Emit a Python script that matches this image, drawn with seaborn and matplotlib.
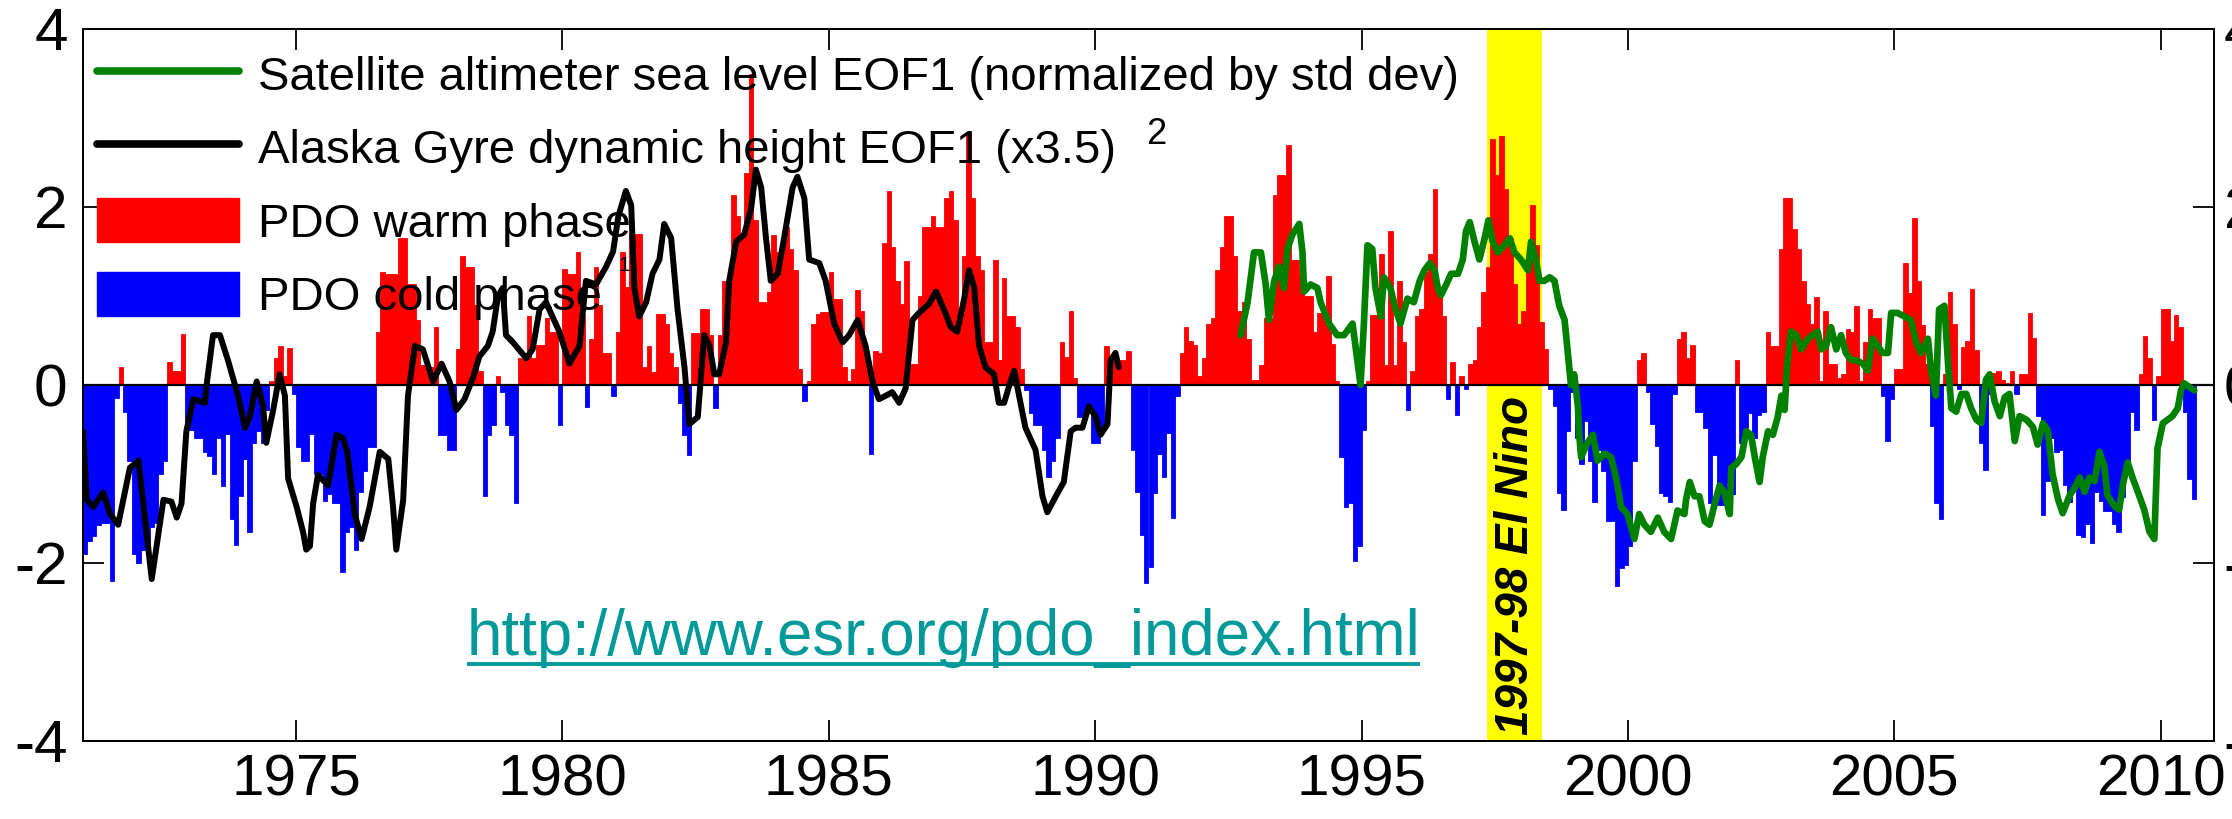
import numpy as np
import pandas as pd
import matplotlib
matplotlib.use("Agg")
import matplotlib.pyplot as plt
from matplotlib.lines import Line2D
from matplotlib.patches import Patch
import seaborn as sns

# ---------------- data ----------------
pdo_start_year = 1971
pdo_1971_1980 = [
    -1.90, -1.75, -1.70, -1.57, -1.55, -1.55, -2.20, -0.15, 0.20, -0.30, -0.85, -1.90,
    -2.00, -1.85, -1.80, -1.60, -1.55, -1.00, -0.85, 0.26, 0.16, 0.16, 0.57, -0.50,
    -0.50, -0.60, -0.60, -0.75, -0.80, -1.00, -0.60, -1.13, -0.55, -1.50, -1.80, -1.25,
    -0.83, -1.65, -0.65, -0.52, -0.65, -0.28, 0.05, 0.30, 0.44, 0.10, 0.42, -0.10,
    -0.70, -0.85, -0.85, -0.55, -1.00, -1.00, -1.30, -1.22, -1.33, -1.33, -2.10, -1.65,
    -1.60, -1.85, -1.20, -0.97, -0.70, -0.70, 0.60, 1.27, 1.25, 1.25, 1.25, 1.65,
    1.65, 1.13, 1.13, 0.73, 0.22, 0.20, 0.20, 0.65, -0.56, -0.56, -0.73, -0.73,
    0.40, 1.45, 1.33, 1.33, 0.90, 0.16, -1.25, -0.56, -0.45, 0.10, -0.08, -0.45,
    -0.56, -1.33, 0.30, 0.30, 0.77, 0.30, 0.45, 0.45, 0.75, 0.60, 0.60, -0.45,
    1.30, 1.25, 1.25, 1.50, 0.77, -0.25, 0.52, 1.33, 0.90, 0.36, 0.36, -0.12,
]
pdo_1981_1990 = [
    0.60, 1.50, 1.10, 1.70, 1.70, 1.70, 0.20, 0.44, 0.15, 0.80, 0.80, 0.69,
    0.36, 0.20, -0.20, -0.56, -0.79, 0.58, 0.58, 0.85, 0.85, 0.56, -0.26, 0.56,
    1.17, 1.17, 2.14, 1.90, 1.69, 2.38, 3.49, 1.85, 0.93, 0.93, 1.05, 1.69,
    1.50, 1.50, 1.77, 1.53, 1.29, 0.18, -0.18, 0.04, 0.69, 0.80, 0.82, 0.82,
    1.27, 0.97, 0.97, 0.20, 0.04, 0.18, 1.07, 0.83, 0.36, -0.77, 0.38, 0.36,
    1.60, 2.18, 1.55, 1.17, 0.91, 1.39, 0.24, 0.24, 1.00, 1.77, 1.77, 1.90,
    1.77, 1.77, 2.10, 2.18, 1.85, 0.80, 1.45, 2.84, 2.10, 1.45, 1.29, 0.48,
    0.48, 1.41, 0.28, 1.20, 0.77, 0.77, 0.65, 0.18, -0.06, -0.32, -0.45, -0.45,
    -0.73, -1.03, -0.85, -0.60, 0.48, 0.32, 0.83, 0.08, -0.36, -0.36, -0.28, -0.65,
    -0.65, -0.52, 0.44, 0.32, 0.32, 0.28, 0.28, 0.38, -0.73, -1.20, -1.69, -2.22,
]
pdo_1991_2000 = [
    -2.04, -1.21, -0.77, -1.03, -0.54, -1.49, -0.12, 0.36, 0.65, 0.50, 0.45, 0.10,
    0.30, 0.69, 0.75, 1.29, 1.55, 1.90, 1.90, 1.45, 0.83, 0.93, 0.52, 0.06,
    0.06, 0.22, 0.75, 0.75, 2.14, 2.36, 2.36, 2.70, 1.41, 1.41, 1.23, 1.00,
    1.00, 0.60, 0.81, 0.81, 1.23, 0.46, 0.04, -0.81, -1.37, -1.33, -1.98, -1.81,
    -0.50, 0.04, 0.79, 0.79, 1.47, 0.22, 1.73, 0.22, 1.17, 0.48, -0.28, 0.16,
    0.77, 0.85, 1.27, 1.47, 2.20, 1.00, 0.77, -0.16, 0.26, -0.34, 0.10, -0.05,
    0.24, 0.28, 0.65, 1.05, 1.33, 2.76, 2.36, 2.80, 2.20, 1.65, 1.13, 0.69,
    0.83, 1.29, 2.02, 1.57, 0.71, 0.40, -0.05, -0.24, -1.21, -1.41, -0.52, -0.08,
    -0.60, -0.89, -0.40, -0.85, -1.31, -0.73, -0.97, -1.53, -1.53, -2.26, -2.06, -2.02,
    -1.81, -0.85, 0.28, 0.36, -0.08, -0.44, -0.69, -1.21, -1.25, -1.31, -0.10, 0.52,
]
pdo_2001_2010 = [
    0.60, 0.30, 0.45, -0.30, -0.30, -0.48, -1.33, -0.79, -1.35, -1.35, -1.23, -1.23,
    0.28, -0.65, -0.48, -0.32, -0.60, -0.34, -0.30, 0.60, 0.44, 0.44, 1.53, 2.10,
    2.10, 1.75, 1.53, 1.17, 0.91, 0.69, 0.99, 0.04, 0.83, 0.24, 0.24, 0.08,
    0.12, 0.63, 0.60, 0.89, 0.05, 0.48, 0.85, 0.75, 0.75, -0.12, -0.63, -0.16,
    0.18, 0.18, 1.37, 1.03, 1.88, 1.17, 0.67, 0.24, -0.46, -1.33, -1.51, 0.12,
    1.04, 0.69, -0.05, 0.43, 0.49, 1.08, 0.39, -0.65, -0.96, -0.10, 0.14, 0.16,
    0.06, 0.02, 0.16, -0.10, 0.12, 0.12, 0.81, 0.53, -0.35, -1.46, -1.08, -0.59,
    -0.75, -0.73, -1.12, -1.32, -1.16, -1.69, -1.71, -1.56, -1.77, -1.20, -1.30, -1.42,
    -1.42, -1.56, -1.65, -1.26, -0.91, -0.30, -0.51, 0.12, 0.55, 0.30, -0.39, 0.10,
    0.85, 0.85, 0.49, 0.79, 0.65, -0.30, -1.06, -1.28,
]

alaska_year = [
    1971.00, 1971.07, 1971.19, 1971.38, 1971.51, 1971.66, 1971.88, 1972.04, 1972.19, 1972.29,
    1972.51, 1972.66, 1972.76, 1972.85, 1972.94, 1973.07, 1973.29, 1973.32, 1973.44, 1973.57,
    1973.72, 1973.91, 1974.04, 1974.13, 1974.26, 1974.38, 1974.44, 1974.57, 1974.69, 1974.79,
    1974.85, 1975.01, 1975.13, 1975.19, 1975.26, 1975.32, 1975.41, 1975.60, 1975.76, 1975.88,
    1975.96, 1976.03, 1976.10, 1976.23, 1976.38, 1976.57, 1976.73, 1976.82, 1976.88, 1977.01,
    1977.10, 1977.23, 1977.38, 1977.57, 1977.73, 1977.88, 1978.01, 1978.16, 1978.32, 1978.44,
    1978.60, 1978.69, 1978.79, 1978.88, 1978.94, 1979.07, 1979.32, 1979.44, 1979.57, 1979.69,
    1979.94, 1980.13, 1980.32, 1980.44, 1980.63, 1980.82, 1980.95, 1981.05, 1981.19, 1981.29,
    1981.35, 1981.44, 1981.57, 1981.69, 1981.82, 1981.91, 1982.04, 1982.16, 1982.29, 1982.38,
    1982.54, 1982.66, 1982.76, 1982.85, 1982.94, 1983.07, 1983.13, 1983.26, 1983.41, 1983.54,
    1983.63, 1983.73, 1983.82, 1983.91, 1984.04, 1984.16, 1984.32, 1984.41, 1984.54, 1984.63,
    1984.82, 1984.94, 1985.10, 1985.26, 1985.38, 1985.54, 1985.69, 1985.82, 1985.94, 1986.07,
    1986.19, 1986.32, 1986.44, 1986.57, 1986.69, 1986.88, 1987.01, 1987.16, 1987.29, 1987.41,
    1987.54, 1987.63, 1987.73, 1987.82, 1987.94, 1988.10, 1988.19, 1988.29, 1988.41, 1988.48,
    1988.57, 1988.69, 1988.88, 1989.01, 1989.10, 1989.26, 1989.41, 1989.54, 1989.63, 1989.76,
    1989.88, 1990.01, 1990.10, 1990.23, 1990.29, 1990.38, 1990.44,
]
alaska_value = [
    -0.52, -1.29, -1.37, -1.21, -1.45, -1.57, -0.93, -0.85, -1.65, -2.18,
    -1.29, -1.31, -1.49, -1.33, -0.52, -0.16, -0.20, 0.00, 0.56, 0.56,
    0.28, -0.12, -0.48, -0.36, 0.04, -0.24, -0.65, -0.28, 0.12, -0.12,
    -1.05, -1.37, -1.65, -1.85, -1.81, -1.33, -1.01, -1.13, -0.56, -0.60,
    -0.75, -1.10, -1.45, -1.73, -1.37, -0.75, -0.83, -1.37, -1.85, -1.29,
    -0.12, 0.44, 0.40, 0.04, 0.24, 0.04, -0.28, -0.16, 0.08, 0.32,
    0.44, 0.60, 1.00, 1.09, 0.56, 0.48, 0.30, 0.40, 0.85, 0.93,
    0.60, 0.24, 0.44, 1.17, 1.13, 1.33, 1.50, 1.90, 2.18, 2.02,
    1.09, 0.77, 0.93, 1.25, 1.41, 1.81, 1.65, 0.85, 0.20, -0.44,
    -0.36, 0.56, 0.44, 0.12, 0.12, 0.48, 1.17, 1.61, 1.69, 1.98,
    2.42, 2.22, 1.65, 1.17, 1.25, 1.65, 2.22, 2.34, 2.10, 1.41,
    1.37, 1.17, 0.69, 0.48, 0.56, 0.73, 0.44, 0.04, -0.16, -0.12,
    -0.08, -0.20, -0.04, 0.73, 0.81, 0.91, 1.05, 0.85, 0.65, 0.60,
    0.97, 1.29, 1.09, 0.44, 0.20, 0.12, -0.20, -0.20, 0.04, 0.16,
    -0.12, -0.48, -0.73, -1.25, -1.43, -1.25, -1.09, -0.52, -0.48, -0.48,
    -0.24, -0.36, -0.56, -0.44, 0.28, 0.36, 0.20,
]

sat_year = [
    1992.73, 1992.86, 1992.98, 1993.11, 1993.20, 1993.26, 1993.36, 1993.45, 1993.54, 1993.61,
    1993.70, 1993.83, 1993.89, 1993.92, 1994.04, 1994.17, 1994.23, 1994.39, 1994.54, 1994.67,
    1994.83, 1994.92, 1994.98, 1995.04, 1995.11, 1995.20, 1995.26, 1995.36, 1995.42, 1995.54,
    1995.64, 1995.73, 1995.86, 1995.98, 1996.09, 1996.18, 1996.28, 1996.37, 1996.43, 1996.49,
    1996.59, 1996.68, 1996.81, 1996.90, 1996.96, 1997.03, 1997.12, 1997.21, 1997.31, 1997.38,
    1997.46, 1997.56, 1997.68, 1997.78, 1997.87, 1997.99, 1998.12, 1998.18, 1998.27, 1998.34,
    1998.43, 1998.53, 1998.62, 1998.71, 1998.81, 1998.87, 1998.93, 1998.99, 1999.06, 1999.09,
    1999.12, 1999.24, 1999.34, 1999.43, 1999.56, 1999.68, 1999.78, 1999.87, 1999.99, 2000.12,
    2000.21, 2000.31, 2000.43, 2000.56, 2000.68, 2000.81, 2000.93, 2001.06, 2001.09, 2001.16,
    2001.25, 2001.34, 2001.44, 2001.53, 2001.63, 2001.72, 2001.81, 2001.91, 2001.94, 2002.03,
    2002.13, 2002.22, 2002.31, 2002.38, 2002.47, 2002.53, 2002.63, 2002.72, 2002.81, 2002.88,
    2002.94, 2002.99, 2003.06, 2003.16, 2003.25, 2003.38, 2003.47, 2003.56, 2003.63, 2003.72,
    2003.81, 2003.91, 2004.00, 2004.09, 2004.19, 2004.28, 2004.41, 2004.50, 2004.59, 2004.69,
    2004.78, 2004.88, 2004.94, 2005.06, 2005.19, 2005.31, 2005.41, 2005.50, 2005.63, 2005.69,
    2005.78, 2005.84, 2005.94, 2006.01, 2006.07, 2006.16, 2006.26, 2006.35, 2006.44, 2006.54,
    2006.63, 2006.72, 2006.79, 2006.88, 2006.98, 2007.07, 2007.16, 2007.26, 2007.35, 2007.48,
    2007.60, 2007.69, 2007.79, 2007.88, 2007.97, 2008.07, 2008.16, 2008.29, 2008.38, 2008.48,
    2008.57, 2008.66, 2008.76, 2008.85, 2008.94, 2009.00, 2009.13, 2009.22, 2009.29, 2009.38,
    2009.47, 2009.57, 2009.69, 2009.79, 2009.88, 2009.94, 2010.04, 2010.13, 2010.22, 2010.32,
    2010.38, 2010.44, 2010.53, 2010.63,
]
sat_value = [
    0.56, 0.93, 1.49, 1.49, 1.13, 0.73, 1.17, 1.33, 1.09, 1.53,
    1.69, 1.81, 1.49, 1.05, 1.13, 1.09, 0.93, 0.69, 0.56, 0.56,
    0.69, 0.28, 0.00, 0.65, 1.57, 1.53, 1.09, 0.77, 1.21, 1.09,
    0.85, 0.69, 0.97, 0.93, 1.17, 1.29, 1.37, 1.29, 1.09, 1.01,
    1.13, 1.25, 1.25, 1.41, 1.73, 1.83, 1.61, 1.41, 1.65, 1.85,
    1.61, 1.49, 1.57, 1.65, 1.49, 1.41, 1.29, 1.61, 1.41, 1.17,
    1.17, 1.21, 1.17, 0.89, 0.73, 0.36, 0.00, 0.12, -0.24, -0.60,
    -0.81, -0.65, -0.56, -0.85, -0.77, -0.81, -1.05, -1.37, -1.45, -1.73,
    -1.45, -1.57, -1.65, -1.49, -1.65, -1.73, -1.41, -1.45, -1.29, -1.09,
    -1.25, -1.25, -1.53, -1.57, -1.33, -1.13, -1.21, -1.45, -0.93, -0.89,
    -0.81, -0.52, -0.56, -0.81, -1.09, -0.81, -0.52, -0.56, -0.36, -0.12,
    -0.28, 0.24, 0.60, 0.56, 0.40, 0.52, 0.56, 0.60, 0.40, 0.44,
    0.65, 0.40, 0.56, 0.36, 0.28, 0.28, 0.24, 0.16, 0.52, 0.44,
    0.36, 0.36, 0.81, 0.81, 0.77, 0.73, 0.48, 0.36, 0.52, 0.16,
    -0.12, 0.85, 0.89, 0.22, -0.26, -0.30, -0.10, -0.10, -0.26, -0.39,
    -0.43, 0.06, 0.12, -0.18, -0.35, -0.14, -0.10, -0.63, -0.35, -0.39,
    -0.47, -0.67, -0.43, -0.51, -1.00, -1.28, -1.44, -1.24, -1.16, -1.04,
    -1.20, -1.04, -1.08, -0.75, -0.91, -1.24, -1.36, -1.40, -1.12, -0.87,
    -1.04, -1.20, -1.40, -1.65, -1.73, -0.71, -0.43, -0.39, -0.35, -0.26,
    -0.06, 0.02, -0.02, -0.06,
]

legend_labels = [
    "Satellite altimeter sea level EOF1 (normalized by std dev)",
    "Alaska Gyre dynamic height EOF1 (x3.5)",
    "PDO warm phase",
    "PDO cold phase",
]
x_ticks = [1975, 1980, 1985, 1990, 1995, 2000, 2005, 2010]
y_ticks = [-4, -2, 0, 2, 4]
el_nino_span = [1997.35, 1998.38]
url_text = "http://www.esr.org/pdo_index.html"
el_nino_text = "1997-98 El Nino"

# ---------------- styling ----------------
sns.set_theme(style="white")
plt.rcParams["font.family"] = ["Liberation Sans", "DejaVu Sans"]
plt.rcParams["axes.unicode_minus"] = False
plt.rcParams["axes.edgecolor"] = "black"
plt.rcParams["text.color"] = "black"
plt.rcParams["xtick.color"] = "black"
plt.rcParams["ytick.color"] = "black"

W, H = 2232, 819
fig = plt.figure(figsize=(W / 100, H / 100), dpi=100)
ax_l, ax_r, ax_t, ax_b = 83, 2214, 29, 741
ax = fig.add_axes([ax_l / W, 1 - ax_b / H, (ax_r - ax_l) / W, (ax_b - ax_t) / H])

pdo = np.array(pdo_1971_1980 + pdo_1981_1990 + pdo_1991_2000 + pdo_2001_2010)
months = pdo_start_year + (np.arange(len(pdo)) + 0.5) / 12.0
df = pd.DataFrame({"year": np.round(months, 5), "pdo": pdo})
warm = df[df["pdo"] > 0]
cold = df[df["pdo"] < 0]

ax.axvspan(el_nino_span[0], el_nino_span[1], color="#FFFF00", zorder=0.5, lw=0)

sns.barplot(data=warm, x="year", y="pdo", native_scale=True, color="#FF0000",
            saturation=1, errorbar=None, width=1.0, edgecolor="#FF0000",
            linewidth=0.6, ax=ax, zorder=1)
sns.barplot(data=cold, x="year", y="pdo", native_scale=True, color="#0000FF",
            saturation=1, errorbar=None, width=1.0, edgecolor="#0000FF",
            linewidth=0.6, ax=ax, zorder=1)

ax.axhline(0, color="black", lw=1.6, zorder=2)

sns.lineplot(x=alaska_year, y=alaska_value, color="black", linewidth=4.3,
             sort=False, estimator=None, ax=ax, zorder=3)
sns.lineplot(x=sat_year, y=sat_value, color="#008000", linewidth=4.8,
             sort=False, estimator=None, ax=ax, zorder=3)

ax.set_xlim(1971, 2011)
ax.set_ylim(-4, 4)
ax.set_xticks(x_ticks)
ax.set_xticklabels([str(t) for t in x_ticks])
ax.set_yticks(y_ticks)
ax.set_yticklabels([str(t) for t in y_ticks])
ax.set_xlabel("")
ax.set_ylabel("")
ax.xaxis.set_ticks_position("both")
ax.tick_params(axis="x", direction="in", length=15, width=1.3, labelsize=42, pad=9,
               top=True, bottom=True)
ax.tick_params(axis="y", direction="in", length=15, width=1.3, labelsize=43.5, pad=11,
               left=True, right=False)
for s in ax.spines.values():
    s.set_linewidth(1.4)
    s.set_color("black")
    s.set_visible(True)

ax2 = ax.twinx()
ax2.set_ylim(-4, 4)
ax2.set_yticks(y_ticks)
ax2.set_yticklabels([str(t) for t in y_ticks])
ax2.tick_params(axis="y", direction="in", length=15, width=1.3, labelsize=43.5, pad=7)
ax2.grid(False)
for s in ax2.spines.values():
    s.set_linewidth(1.4)
    s.set_color("black")

# legend
handles = [
    Line2D([], [], color="#008000", lw=5.5),
    Line2D([], [], color="black", lw=5.5),
    Patch(facecolor="#FF0000", edgecolor="#FF0000"),
    Patch(facecolor="#0000FF", edgecolor="#0000FF"),
]
leg = ax.legend(handles, legend_labels, loc="upper left",
                bbox_to_anchor=(14 / (ax_r - ax_l), 1 - 23 / (ax_b - ax_t)),
                frameon=False, fontsize=34, handlelength=3.0, handleheight=1.06,
                handletextpad=0.42, labelspacing=0.53, borderpad=0, borderaxespad=0)
leg.set_zorder(2.5)

# small annotation marks
ax.text(1991.15, 2.81, "2", fontsize=26, ha="center", va="center", zorder=4)
ax.text(1981.15, 1.34, "1", fontsize=15, ha="center", va="center", zorder=4)

# El Nino label
ax.text(1997.89, -3.93, el_nino_text, rotation=90, fontsize=33,
        fontweight="bold", fontstyle="italic", ha="center", va="bottom", zorder=4)

# URL with underline
url_color = "#009999"
url = ax.text(1978.2, -3.03, url_text, color=url_color, fontsize=45.8,
              ha="left", va="baseline", zorder=4)
fig.canvas.draw()
bb = url.get_window_extent(renderer=fig.canvas.get_renderer())
inv = ax.transData.inverted()
(ux0, _), (ux1, _) = inv.transform([[bb.x0, 0], [bb.x1, 0]])
ax.plot([ux0, ux1], [-3.13, -3.13], color=url_color, lw=2.8,
        solid_capstyle="butt", zorder=4)

fig.savefig("out.png", dpi=100)
